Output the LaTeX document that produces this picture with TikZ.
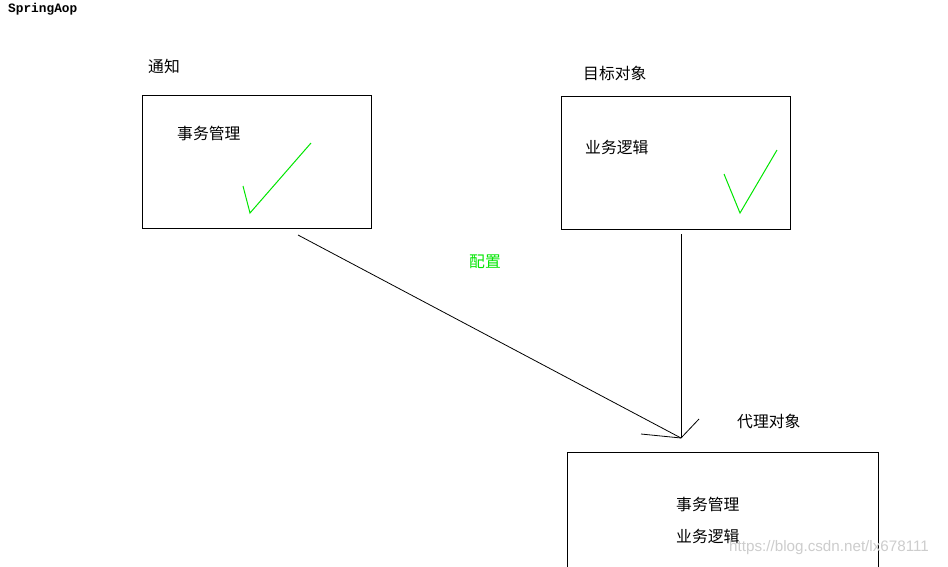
\documentclass[tikz,border=0pt]{standalone}
\usepackage{fontspec}
\setmainfont{Liberation Sans}
\newfontfamily\cjk{Noto Sans CJK SC}
\newfontfamily\monob{Liberation Mono}
\definecolor{chk}{RGB}{0,230,0}
\definecolor{wm}{RGB}{205,205,205}
\begin{document}
\begin{tikzpicture}[x=1pt,y=-1pt,
  boxst/.style={draw,line width=1pt,inner sep=0pt,anchor=north west},
  txt/.style={font=\cjk\fontsize{15.8}{18}\selectfont,inner sep=0pt,anchor=west},
  wire/.style={line width=0.8pt},
  tick/.style={line width=1pt,chk}]
\useasboundingbox[fill=white] (0,0) rectangle (948,566);
\node[anchor=west,inner sep=0pt,font=\monob\bfseries\fontsize{12.8}{14}\selectfont] (title) at (8,9) {SpringAop};
% advice box
\node[txt] (lbl1) at (148,66) {通知};
\node[boxst,minimum width=229pt,minimum height=133pt] (box1) at (142,95) {};
\node[txt] (t1) at (177,133) {事务管理};
\draw[tick] (243,186) -- (250,213) -- (311,143);
% target box
\node[txt] (lbl2) at (583,73) {目标对象};
\node[boxst,minimum width=229pt,minimum height=133pt] (box2) at (561,96) {};
\node[txt] (t2) at (585,147) {业务逻辑};
\draw[tick] (724,174) -- (740,213) -- (777,150);
% config label
\node[txt,text=chk] (cfg) at (469,262) {配置};
% connectors
\coordinate (s1) at (298,235);
\coordinate (s2) at (681,234);
\coordinate (tip) at (681,438);
\coordinate (h1) at (641,434);
\coordinate (h2) at (699,419);
\draw[wire] (s1) -- (tip);
\draw[wire] (s2) -- (tip);
\draw[wire] (h1) -- (tip) -- (h2);
% proxy box
\node[txt] (lbl3) at (737,421) {代理对象};
\coordinate (b1) at (567,570);
\coordinate (b2) at (567,452);
\coordinate (b3) at (878,452);
\coordinate (b4) at (878,570);
\draw[line width=1pt] (b1) -- (b2) -- (b3) -- (b4);
\node[txt] (t3) at (676,504) {事务管理};
\node[txt] (t4) at (676,536) {业务逻辑};
\node[anchor=west,inner sep=0pt,text=wm,font=\fontsize{15.2}{17}\selectfont] (wmk) at (729,548) {https://blog.csdn.net/lx678111};
\end{tikzpicture}
\end{document}
